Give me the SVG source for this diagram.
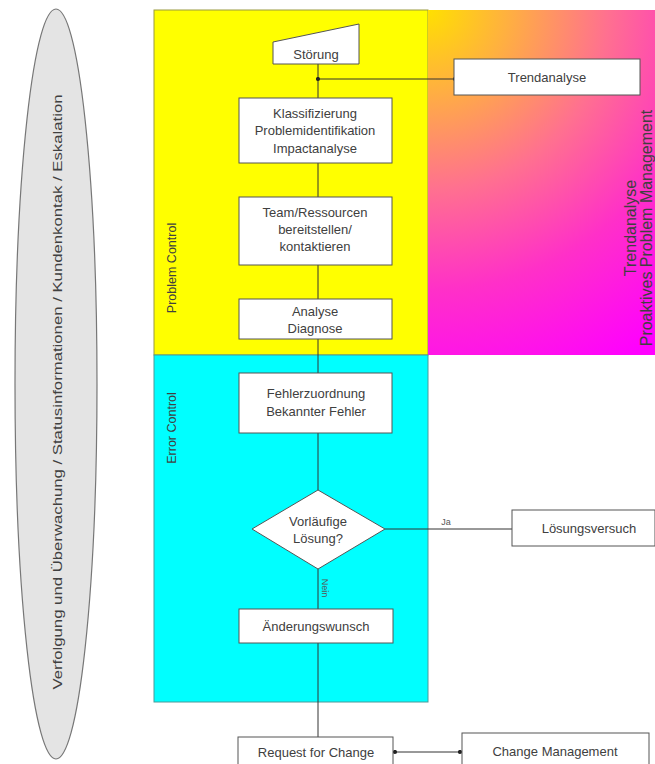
<svg xmlns="http://www.w3.org/2000/svg" width="655" height="764" viewBox="0 0 655 764">
  <defs>
    <radialGradient id="proGrad" gradientUnits="userSpaceOnUse" cx="428" cy="10" r="400">
      <stop offset="0" stop-color="#FFE000"/>
      <stop offset="0.2" stop-color="#FFB040"/>
      <stop offset="0.45" stop-color="#FF7090"/>
      <stop offset="0.7" stop-color="#FF30C8"/>
      <stop offset="1" stop-color="#FF00FF"/>
    </radialGradient>
    <marker id="dot" viewBox="0 0 6 6" refX="3" refY="3" markerWidth="5" markerHeight="5" markerUnits="userSpaceOnUse">
      <circle cx="3" cy="3" r="2.5" fill="#222"/>
    </marker>
    <style>
      text { font-family: "Liberation Sans", Arial, sans-serif; fill: #404040; }
      .box { fill: #FFFFFF; stroke: #555; stroke-width: 1; }
      .lbl { font-size: 13px; text-anchor: middle; }
      .lane { font-size: 12.5px; text-anchor: middle; fill: #404040; }
      .wire { fill: none; stroke: #333; stroke-width: 1; }
      .small { font-size: 9px; text-anchor: middle; fill: #555; }
    </style>
  </defs>

  <rect width="655" height="764" fill="#FFFFFF"/>

  <!-- tracking ellipse on the left -->
  <g id="tracking">
    <ellipse cx="56" cy="384" rx="41" ry="375" fill="#E4E4E4" stroke="#777" stroke-width="1.2"/>
    <text transform="translate(62,392) rotate(-90)" font-size="13" text-anchor="middle" textLength="595" lengthAdjust="spacingAndGlyphs">Verfolgung und Überwachung / Statusinformationen / Kundenkontak / Eskalation</text>
  </g>

  <!-- swimlanes -->
  <g id="lane-problem-control">
    <rect x="154" y="10" width="274" height="345" fill="#FFFF00" stroke="#9A9A40" stroke-width="1"/>
    <text class="lane" transform="translate(176,268) rotate(-90)">Problem Control</text>
  </g>
  <g id="lane-proactive">
    <rect x="428" y="10" width="227" height="345" fill="url(#proGrad)"/>
    <text transform="translate(636,228) rotate(-90)" font-size="16" text-anchor="middle" fill="#662266">Trendanalyse</text>
    <text transform="translate(652,228) rotate(-90)" font-size="16" text-anchor="middle" fill="#662266">Proaktives Problem Management</text>
  </g>
  <g id="lane-error-control">
    <rect x="154" y="355" width="274" height="347" fill="#00FFFF" stroke="#4A9A9A" stroke-width="1"/>
    <text class="lane" transform="translate(176,428) rotate(-90)" font-size="13.5">Error Control</text>
  </g>

  <!-- connectors -->
  <g id="connectors">
    <line class="wire" x1="318" y1="64" x2="318" y2="98"/>
    <line class="wire" x1="455" y1="79" x2="318" y2="79" marker-start="url(#dot)" marker-end="url(#dot)"/>
    <line class="wire" x1="318" y1="163" x2="318" y2="197"/>
    <line class="wire" x1="318" y1="265" x2="318" y2="299"/>
    <line class="wire" x1="318" y1="339" x2="318" y2="373" stroke="#2F4F4F"/>
    <line class="wire" x1="318" y1="433" x2="318" y2="490" stroke="#2F5F5F"/>
    <line class="wire" x1="318" y1="569" x2="318" y2="609" stroke="#2F5F5F"/>
    <line class="wire" x1="385" y1="529" x2="512" y2="529" stroke="#777"/>
    <text class="small" x="446" y="525">Ja</text>
    <text class="small" transform="translate(322,588) rotate(90)">Nein</text>
    <line class="wire" x1="318" y1="643" x2="318" y2="737" stroke="#2F5F5F"/>
    <line class="wire" x1="395" y1="752" x2="460" y2="752" marker-start="url(#dot)" marker-end="url(#dot)"/>
  </g>

  <!-- nodes -->
  <g id="stoerung">
    <polygon class="box" points="273,42 359,24 359,64 273,64"/>
    <text class="lbl" x="316" y="59">Störung</text>
  </g>
  <g id="trendanalyse">
    <rect class="box" x="454" y="59" width="186" height="36"/>
    <text class="lbl" x="547" y="82">Trendanalyse</text>
  </g>
  <g id="klassifizierung">
    <rect class="box" x="239" y="98" width="153" height="65"/>
    <text class="lbl" x="315" y="118">Klassifizierung</text>
    <text class="lbl" x="315" y="135">Problemidentifikation</text>
    <text class="lbl" x="315" y="153">Impactanalyse</text>
  </g>
  <g id="team">
    <rect class="box" x="239" y="197" width="153" height="68"/>
    <text class="lbl" x="315" y="217">Team/Ressourcen</text>
    <text class="lbl" x="315" y="234">bereitstellen/</text>
    <text class="lbl" x="315" y="251">kontaktieren</text>
  </g>
  <g id="analyse">
    <rect class="box" x="239" y="299" width="153" height="40"/>
    <text class="lbl" x="315" y="316">Analyse</text>
    <text class="lbl" x="315" y="333">Diagnose</text>
  </g>
  <g id="fehlerzuordnung">
    <rect class="box" x="239" y="373" width="153" height="60"/>
    <text class="lbl" x="316" y="398">Fehlerzuordnung</text>
    <text class="lbl" x="316" y="416">Bekannter Fehler</text>
  </g>
  <g id="vorlaeufige-loesung">
    <polygon class="box" points="318,490 385,529 318,569 252,529"/>
    <text class="lbl" x="318" y="526">Vorläufige</text>
    <text class="lbl" x="318" y="543">Lösung?</text>
  </g>
  <g id="loesungsversuch">
    <rect class="box" x="512" y="510" width="143" height="36"/>
    <text class="lbl" x="589" y="533">Lösungsversuch</text>
  </g>
  <g id="aenderungswunsch">
    <rect class="box" x="239" y="609" width="154" height="34"/>
    <text class="lbl" x="316" y="631">Änderungswunsch</text>
  </g>
  <g id="rfc">
    <rect class="box" x="238" y="737" width="155" height="40"/>
    <text class="lbl" x="316" y="757">Request for Change</text>
  </g>
  <g id="change-management">
    <rect class="box" x="462" y="733" width="187" height="44"/>
    <text class="lbl" x="555" y="756">Change Management</text>
  </g>
</svg>
